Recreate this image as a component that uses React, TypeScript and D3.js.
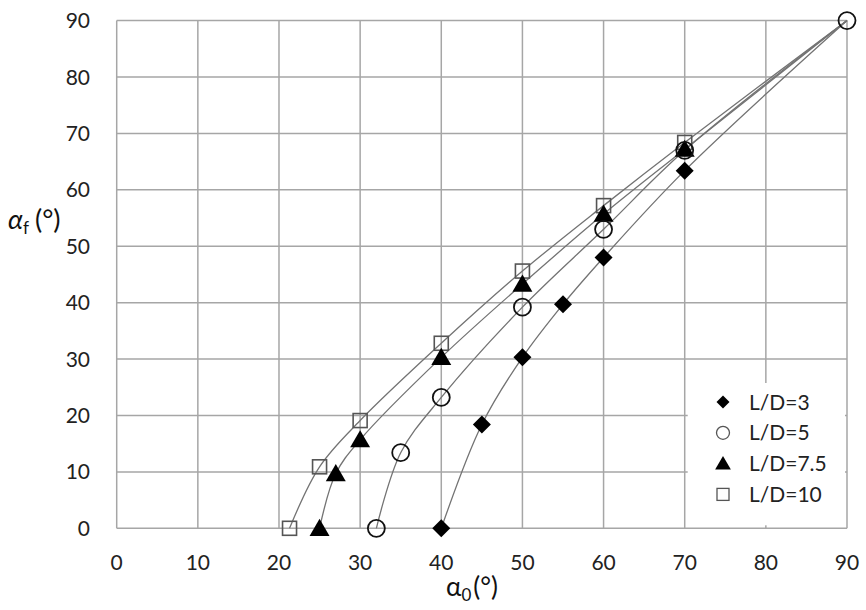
import { useEffect, useRef } from "react"
import * as d3 from "d3"

// Values (alpha0 in degrees, alphaf in degrees)
const ld3 = [
  [40, 0], [45, 18.4], [50, 30.3], [55, 39.7], [60, 48], [70, 63.4],
]
const ld5 = [
  [32, 0], [35, 13.4], [40, 23.2], [50, 39.2], [60, 53], [70, 67], [90, 90],
]
const ld75 = [
  [25, 0], [27, 9.7], [30, 15.7], [40, 30.3], [50, 43.3], [60, 55.7], [70, 67.2],
]
const ld10 = [
  [21.3, 0], [25, 10.9], [30, 19.1], [40, 32.8], [50, 45.6], [60, 57.2], [70, 68.4],
]
const convergence = [90, 90]

const seriesNames = ["L/D=3", "L/D=5", "L/D=7.5", "L/D=10"]
const seriesData = [ld3, ld5, ld75, ld10]
const ticks = [0, 10, 20, 30, 40, 50, 60, 70, 80, 90]

const W = 866
const H = 610
const font = "Lato, 'Open Sans', sans-serif"

export default function App() {
  const svgRef = useRef<SVGSVGElement>(null)

  useEffect(() => {
    if (!svgRef.current) return
    const svg = d3.select(svgRef.current)
    svg.selectAll("*").remove()

    const x = d3.scaleLinear().domain([0, 90]).range([116.7, 847])
    const y = d3.scaleLinear().domain([0, 90]).range([528.3, 20.6])

    // grid
    const grid = svg.append("g").attr("stroke", "#a6a6a6").attr("stroke-width", 1.5)
    grid.selectAll(".gx").data(ticks).join("line")
      .attr("x1", (d) => x(d)).attr("x2", (d) => x(d))
      .attr("y1", y(0)).attr("y2", y(90))
    grid.selectAll(".gy").data(ticks).join("line")
      .attr("y1", (d) => y(d)).attr("y2", (d) => y(d))
      .attr("x1", x(0)).attr("x2", x(90))

    // legend background covers the grid
    svg.append("rect")
      .attr("x", x(70) + 3).attr("y", 383)
      .attr("width", x(90) - x(70) - 5).attr("height", y(0) - 386)
      .attr("fill", "#fff")

    // tick labels
    svg.append("g").selectAll("text").data(ticks).join("text")
      .attr("x", (d) => x(d)).attr("y", 570)
      .attr("text-anchor", "middle")
      .attr("font-family", font).attr("font-size", 21).attr("fill", "#222")
      .text((d) => d)
    svg.append("g").selectAll("text").data(ticks).join("text")
      .attr("x", 90).attr("y", (d) => y(d) + 7.5)
      .attr("text-anchor", "end")
      .attr("font-family", font).attr("font-size", 21).attr("fill", "#222")
      .text((d) => d)

    // axis titles
    const xt = svg.append("text").attr("x", 446).attr("y", 596)
      .attr("font-family", font).attr("font-size", 26).attr("fill", "#111")
    xt.append("tspan").text("α")
    xt.append("tspan").attr("font-size", 17).attr("dy", 5).text("0")
    xt.append("tspan").attr("dy", -5).attr("dx", 2).text("(°)")

    const yt = svg.append("text").attr("x", 8).attr("y", 229)
      .attr("font-family", font).attr("font-size", 27).attr("fill", "#111")
    yt.append("tspan").attr("font-style", "italic").text("α")
    yt.append("tspan").attr("font-size", 17).attr("dy", 5).text("f")
    yt.append("tspan").attr("dy", -5).attr("dx", 6).text("(°)")

    // curves
    const line = d3.line<number[]>()
      .x((d) => x(d[0])).y((d) => y(d[1]))
      .curve(d3.curveCatmullRom.alpha(0.5))
    svg.append("g").selectAll("path").data(seriesData).join("path")
      .attr("d", (d) => {
        const last = d[d.length - 1]
        const pts = last[0] === convergence[0] ? d : [...d, convergence]
        return line(pts)
      })
      .attr("fill", "none").attr("stroke", "#737373").attr("stroke-width", 1.3)

    // markers
    const drawMarker = (
      g: d3.Selection<SVGGElement, unknown, null, undefined>,
      kind: number, cx: number, cy: number, s: number, thin = false,
    ) => {
      if (kind === 0) {
        g.append("path")
          .attr("d", `M${cx},${cy - s}L${cx + s},${cy}L${cx},${cy + s}L${cx - s},${cy}Z`)
          .attr("fill", "#000")
      } else if (kind === 1) {
        g.append("circle").attr("cx", cx).attr("cy", cy).attr("r", s)
          .attr("fill", "none").attr("stroke", thin ? "#555" : "#111")
          .attr("stroke-width", thin ? 1.3 : 1.8)
      } else if (kind === 2) {
        g.append("path")
          .attr("d", `M${cx},${cy - s}L${cx + s * 1.05},${cy + s * 0.8}L${cx - s * 1.05},${cy + s * 0.8}Z`)
          .attr("fill", "#000")
      } else {
        g.append("rect").attr("x", cx - s).attr("y", cy - s)
          .attr("width", 2 * s).attr("height", 2 * s)
          .attr("fill", "none").attr("stroke", "#555")
          .attr("stroke-width", thin ? 1.3 : 1.6)
      }
    }
    const sizes = [9, 8.5, 9.5, 7]
    const mg = svg.append("g")
    ;[0, 3, 2, 1].forEach((k) => {
      seriesData[k].forEach((p) => drawMarker(mg, k, x(p[0]), y(p[1]), sizes[k]))
    })

    // legend
    const lg = svg.append("g")
    const legendSizes = [6.5, 6.5, 7.5, 6]
    seriesNames.forEach((name, i) => {
      const cy = 402 + i * 30.8
      drawMarker(lg, i, 723, cy, legendSizes[i], true)
      lg.append("text").attr("x", 749).attr("y", cy + 7.5)
        .attr("font-family", font).attr("font-size", 21).attr("fill", "#222")
        .text(name)
    })
  }, [])

  return (
    <svg
      ref={svgRef}
      width={W}
      height={H}
      style={{ position: "absolute", left: 0, top: 0, background: "#fff" }}
    />
  )
}
